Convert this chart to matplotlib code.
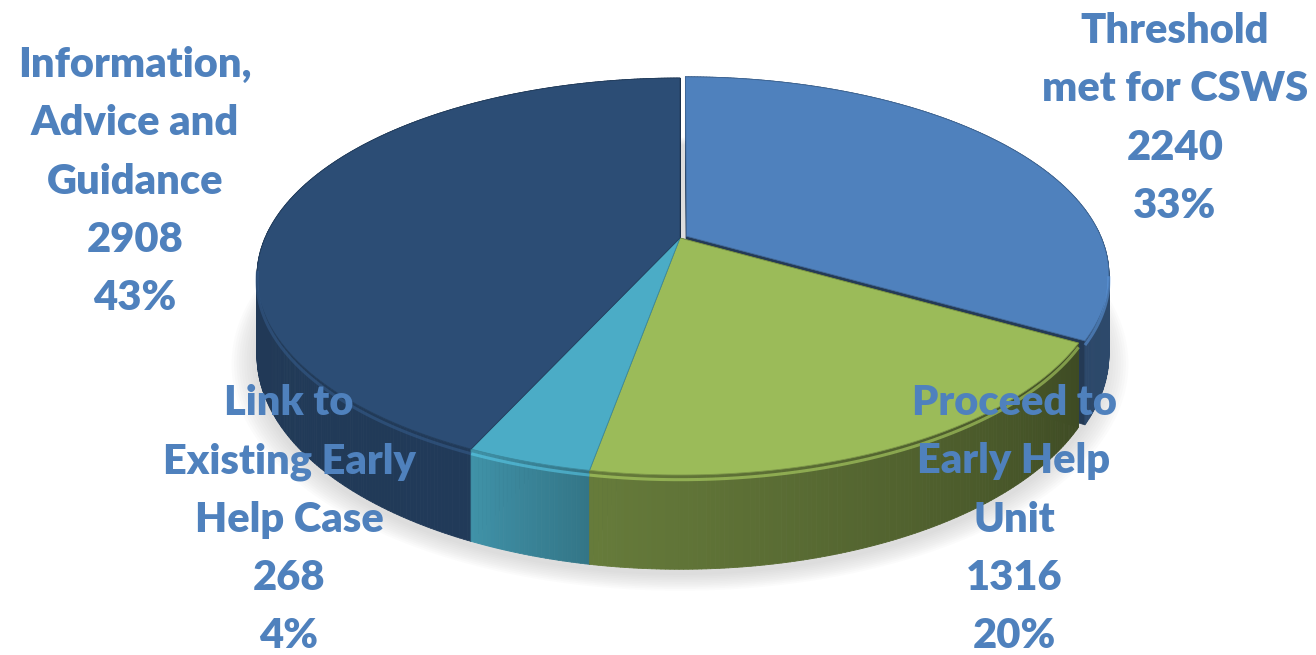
import numpy as np
import matplotlib.pyplot as plt
from matplotlib.collections import PolyCollection
from matplotlib.patches import Polygon
from matplotlib.colors import to_rgb


categories = [
    "Threshold\nmet for CSWS",
    "Proceed to\nEarly Help\nUnit",
    "Link to\nExisting Early\nHelp Case",
    "Information,\nAdvice and\nGuidance",
]
values = [2240, 1316, 268, 2908]

colors = ["#4F81BD", "#9BBB59", "#4BACC6", "#2C4D75"]
explode = [0.018, 0, 0, 0]
# wall brightness (start angle, end angle) for each slice
wall_shade = [(0.62, 0.56), (0.40, 0.66), (0.68, 0.85), (0.76, 0.70)]
label_pos = [(1175, 43), (1014, 415), (289, 415), (135, 77)]
label_color = "#4F81BD"
line_step = 58.3

# 3d pie geometry (pixels)
CX, CY = 680, 238
A, B, E, H = 415, 191, 0.194, 76


def proj(u, v, z):
    w = 1 + E * v
    return CX + A * u / w, CY - (B * v + H * z) / w


def rim(theta, off, z):
    t = np.radians(theta)
    return proj(np.sin(t) + off[0], np.cos(t) + off[1], z)


def shade(color, f):
    return tuple(min(1, c * f) for c in to_rgb(color))


fig = plt.figure(figsize=(13.16, 6.55), dpi=100)
ax = fig.add_axes([0, 0, 1, 1])
ax.set_xlim(0, 1316)
ax.set_ylim(655, 0)
ax.axis("off")

total = sum(values)
edges = np.concatenate([[0], np.cumsum(values) / total * 360])

# soft shadow under the pie
ts = np.linspace(0, 360, 361)
bx, by = rim(ts, (0, 0), -1)
for k in range(10, 0, -1):
    s = 1 + k * 0.006
    ax.fill(CX + (bx - CX) * s, CY + 40 + (by - CY - 40) * s + 4,
            color="#9a9a9a", alpha=0.035, lw=0, zorder=0)

faces = []
walls = []
for i in range(len(values)):
    a0, a1 = edges[i], edges[i + 1]
    mid = np.radians((a0 + a1) / 2)
    off = (explode[i] * np.sin(mid), explode[i] * np.cos(mid))
    s0, s1 = wall_shade[i]

    # radial cut faces
    for a in (a0, a1):
        ax0, ay0 = proj(off[0], off[1], 0)
        ax1, ay1 = proj(off[0], off[1], -1)
        rx0, ry0 = rim(a, off, 0)
        rx1, ry1 = rim(a, off, -1)
        faces.append([(ax0, ay0), (rx0, ry0), (rx1, ry1), (ax1, ay1)])

    # outer wall strips
    n = max(4, int((a1 - a0) / 0.5))
    tt = np.linspace(a0, a1, n + 1)
    for j in range(n):
        x0, y0 = rim(tt[j], off, 0)
        x1, y1 = rim(tt[j + 1], off, 0)
        x2, y2 = rim(tt[j + 1], off, -1)
        x3, y3 = rim(tt[j], off, -1)
        f = s0 + (s1 - s0) * (j + 0.5) / n
        depth = np.cos(np.radians((tt[j] + tt[j + 1]) / 2))
        walls.append((depth, [(x0, y0), (x1, y1), (x2, y2), (x3, y3)],
                      shade(colors[i], f)))

    faces_col = shade(colors[i], 0.45)
    ax.add_collection(PolyCollection(faces[-2:], facecolors=faces_col,
                                     edgecolors=faces_col, lw=0.5, zorder=1))

walls.sort(key=lambda w: -w[0])
ax.add_collection(PolyCollection([w[1] for w in walls],
                                 facecolors=[w[2] for w in walls],
                                 edgecolors=[w[2] for w in walls],
                                 lw=0.6, zorder=2))

# top faces and bevel highlight
for i in range(len(values)):
    a0, a1 = edges[i], edges[i + 1]
    mid = np.radians((a0 + a1) / 2)
    off = (explode[i] * np.sin(mid), explode[i] * np.cos(mid))
    tt = np.linspace(a0, a1, 200)
    rx, ry = rim(tt, off, 0)
    apx, apy = proj(off[0], off[1], 0)
    pts = np.column_stack([np.r_[apx, rx], np.r_[apy, ry]])
    ax.add_patch(Polygon(pts, closed=True, facecolor=colors[i],
                         edgecolor=shade(colors[i], 0.8), lw=0.6, zorder=3))
    front = (tt > 100) & (tt < 262)
    if front.any():
        hx, hy = rim(tt[front], off, -0.05)
        ax.plot(hx, hy, color=shade(colors[i], 1.25), lw=2.2,
                alpha=0.5, zorder=4, solid_capstyle="butt")

# data labels
for i, name in enumerate(categories):
    pct = round(values[i] / total * 100)
    lines = name.split("\n") + [str(values[i]), f"{pct}%"]
    x, y = label_pos[i]
    for k, line in enumerate(lines):
        ax.text(x, y + k * line_step, line, ha="center", va="baseline",
                fontsize=30, fontweight=800, color=label_color,
                family=["Lato", "DejaVu Sans"], zorder=10)

fig.savefig("out.png", dpi=100)
